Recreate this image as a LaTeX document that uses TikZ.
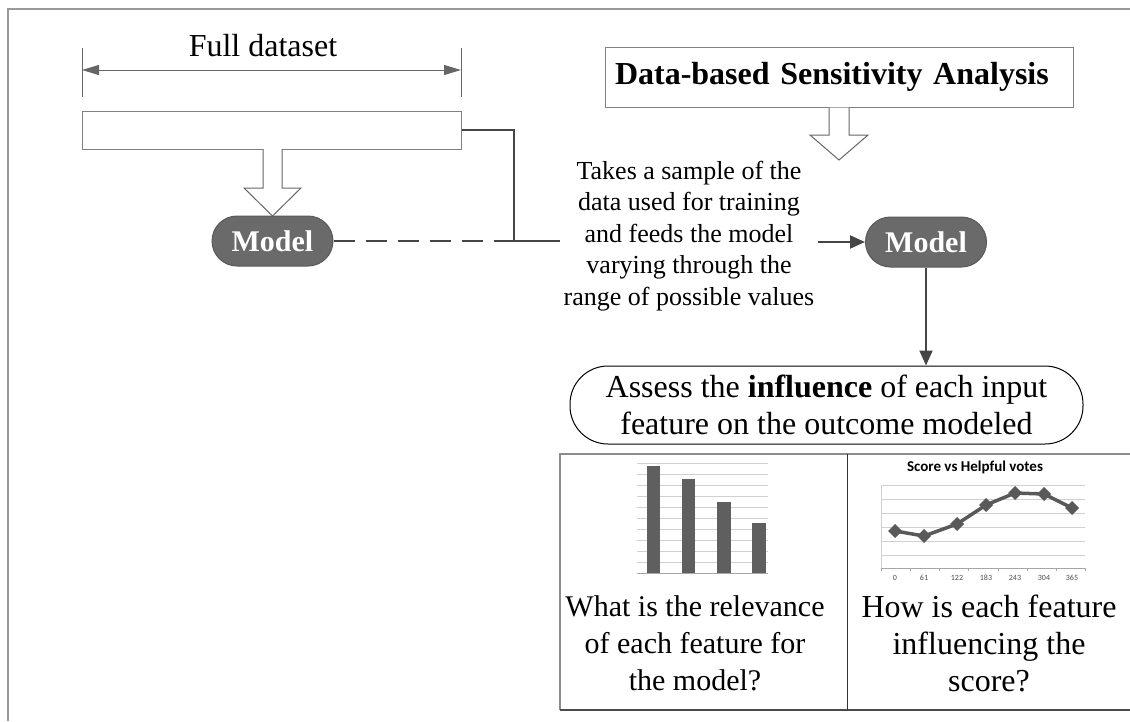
\documentclass[tikz,border=0pt]{standalone}
\usepackage{fontspec}
\setmainfont{Liberation Serif}
\newfontfamily\chartfont{Carlito}
\usetikzlibrary{arrows.meta,shapes.misc}
\definecolor{conncol}{HTML}{454545}
\definecolor{modelfill}{HTML}{6A6A6A}
\definecolor{barcol}{HTML}{5F5F5F}
\definecolor{gridcol}{HTML}{D0D0D0}
\tikzset{
  framebox/.style={draw=black!40, line width=2pt},
  conn/.style={draw=conncol, line width=2pt},
  tipped/.style={-{Triangle[length=15pt,width=13pt]}},
  modelnode/.style={rounded rectangle, fill=modelfill, draw=black!65, line width=1pt,
    text=white, font=\fontsize{30}{34}\selectfont\bfseries,
    minimum width=121pt, minimum height=50pt, inner sep=0pt},
  hollow/.style={draw=black!60, line width=1pt, fill=white},
  plainbox/.style={draw=black!50, line width=1pt, inner sep=0pt},
  bigtext/.style={font=\fontsize{32}{37}\selectfont, align=center},
  gridline/.style={draw=gridcol, line width=1pt},
}
\begin{document}
\begin{tikzpicture}[x=1pt,y=-1pt]
\useasboundingbox (0,0) rectangle (1130,721);
% outer frame (top and left edges only)
\draw[framebox] (1130,9) -- (8,9) -- (8,721);

% Full dataset dimension
\node[font=\fontsize{32}{36}\selectfont] (fulltxt) at (263,46) {Full dataset};
\coordinate (dimL) at (82,70);
\coordinate (dimR) at (461,70);
\draw[draw=black!60, line width=1pt] (82,48) -- (82,97);
\draw[draw=black!60, line width=1pt] (461,48) -- (461,97);
\draw[draw=black!60, line width=1pt, {Triangle[length=17pt,width=10pt]}-{Triangle[length=17pt,width=10pt]}] (dimL) -- (dimR);

% dataset bar
\node[plainbox, minimum width=379pt, minimum height=38pt] (data) at (271.5,130) {};

% hollow arrow to model 1
\draw[hollow] (263,149) -- (263,188) -- (244,188) -- (272.5,216) -- (301,188) -- (282,188) -- (282,149);

% model 1
\node[modelnode] (m1) at (272.5,241) {Model};

% connectors from dataset / model 1
\coordinate (junc) at (514,241);
\coordinate (jend) at (560,241);
\draw[conn, dash pattern=on 21pt off 11pt] (m1.east) -- (junc);
\draw[conn] (data.east) -| (junc) -- (jend);

% explanatory text
\node[font=\fontsize{26}{31.5}\selectfont, align=center, inner sep=2pt] (txt) at (689,236)
  {Takes a sample of the\\data used for training\\and feeds the model\\varying through the\\range of possible values};

% Data-based Sensitivity Analysis box
\node[plainbox, text width=448pt, align=left, inner xsep=10pt, minimum height=60pt,
  font=\fontsize{32}{36}\selectfont\bfseries] (dsa) at (839,77) {Data-based Sensitivity Analysis};
\draw[hollow] (829,107.5) -- (829,135) -- (810,135) -- (839,160) -- (868,135) -- (849,135) -- (849,107.5);

% model 2
\node[modelnode] (m2) at (926,242) {Model};
\draw[conn, tipped] (818,242) -- (m2.west);

% assess box
\node[draw=black, line width=1pt, rounded corners=38pt, minimum width=513pt, minimum height=78pt,
  bigtext, inner sep=0pt] (assess) at (826.5,405)
  {Assess the \textbf{influence} of each input\\feature on the outcome modeled};
\draw[conn, tipped] (m2.south) -- (m2.south |- assess.north);

% table
\coordinate (tTL) at (560,454);
\coordinate (tBL) at (560,710);
\coordinate (tTM) at (847,454);
\coordinate (tBM) at (847,710);
\draw[draw=black!45, line width=2pt] (1130,454) -- (tTL) -- (tBL);
\draw[draw=black!70, line width=1.5pt] (tBL) -- (1130,710);
\draw[draw=black!80, line width=1pt] (tTM) -- (tBM);

% bar chart
\foreach \yy in {463,474,485,496,507,518,529,540,551,562}
  \draw[gridline] (637,\yy) -- (768,\yy);
\draw[draw=black!35, line width=1pt] (637,573) -- (768,573);
\fill[barcol] (647,466) rectangle (660,573);
\fill[barcol] (682,479) rectangle (695,573);
\fill[barcol] (717,502) rectangle (731,573);
\fill[barcol] (752,523) rectangle (766,573);

% line chart
\node[font=\chartfont\bfseries\fontsize{15}{17}\selectfont] (ctitle) at (975,467) {Score vs Helpful votes};
\foreach \yy in {485,499,513,527,541,555}
  \draw[gridline] (881,\yy) -- (1085,\yy);
\draw[draw=gridcol, line width=1pt] (881,485) -- (881,568);
\draw[draw=black!35, line width=1pt] (881,568) -- (1085,568);
\foreach \xx in {881,910,939,968,998,1027,1056,1085}
  \draw[draw=black!35] (\xx,568) -- (\xx,571);
\draw[draw=black!65, line width=3.5pt, line join=round]
  (895,531) -- (924,536) -- (957,524) -- (986,505) -- (1015,493) -- (1044,494) -- (1072,508);
\foreach \px/\py in {895/531,924/536,957/524,986/505,1015/493,1044/494,1072/508}
  \fill[black!65] (\px,\py-7) -- (\px+7,\py) -- (\px,\py+7) -- (\px-7,\py) -- cycle;
\foreach \px/\lab in {895/0,924/61,957/122,986/183,1015/243,1044/304,1072/365}
  \node[font=\chartfont\fontsize{8}{9}\selectfont, text=black!70] at (\px,578) {\lab};

% table texts
\node[bigtext, font=\fontsize{30}{37}\selectfont] (q1) at (695,643) {What is the relevance\\of each feature for\\the model?};
\node[bigtext] (q2) at (989,643) {How is each feature\\influencing the\\score?};
\end{tikzpicture}
\end{document}
